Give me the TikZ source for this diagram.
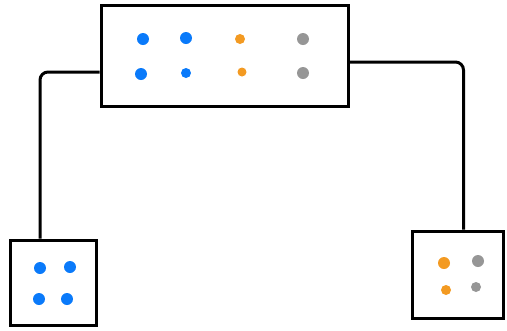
\documentclass[tikz,border=0pt]{standalone}
\usepackage{tikz}
\usetikzlibrary{positioning}
\definecolor{dotblue}{RGB}{10,122,250}
\definecolor{dotorange}{RGB}{243,154,34}
\definecolor{dotgray}{RGB}{150,150,150}
\tikzset{
    box/.style={draw, line width=3pt, inner sep=0pt},
    dot/.style={circle, fill=#1, inner sep=0pt, minimum size=12pt},
    wire/.style={line width=3pt, rounded corners=8pt}
}

\begin{document}
\begin{tikzpicture}[x=1pt, y=-1pt]
    \useasboundingbox (0,0) rectangle (507,330);

    % Top box - two rows of dots
    \node[box, minimum width=247pt, minimum height=101pt] (top) at (224.5,55.5) {};
    \node[dot=dotblue] (t1) at (143,39) {};
    \node[dot=dotblue] (t2) at (186,38) {};
    \node[dot=dotorange, minimum size=10pt] (t3) at (240,39) {};
    \node[dot=dotgray] (t4) at (303,39) {};
    \node[dot=dotblue] (t5) at (141,74) {};
    \node[dot=dotblue, minimum size=10pt] (t6) at (186,73) {};
    \node[dot=dotorange, minimum size=9pt] (t7) at (242,72) {};
    \node[dot=dotgray] (t8) at (303,73) {};

    % Left box - blue dots
    \node[box, minimum width=86pt, minimum height=85pt] (lbox) at (53,282.5) {};
    \node[dot=dotblue] (l1) at (40,268) {};
    \node[dot=dotblue] (l2) at (70,267) {};
    \node[dot=dotblue] (l3) at (39,299) {};
    \node[dot=dotblue] (l4) at (67,299) {};

    % Right box - orange and gray dots
    \node[box, minimum width=91pt, minimum height=87pt] (rbox) at (457.5,274.5) {};
    \node[dot=dotorange] (r1) at (444,263) {};
    \node[dot=dotgray] (r2) at (478,261) {};
    \node[dot=dotorange, minimum size=10pt] (r3) at (446,290) {};
    \node[dot=dotgray, minimum size=10pt] (r4) at (476,287) {};

    % Connectors
    \draw[wire] ([yshift=-16.5pt]top.west) -| ([xshift=-13pt]lbox.north);
    \draw[wire] ([yshift=-6.5pt]top.east) -| ([xshift=6pt]rbox.north);
\end{tikzpicture}
\end{document}
